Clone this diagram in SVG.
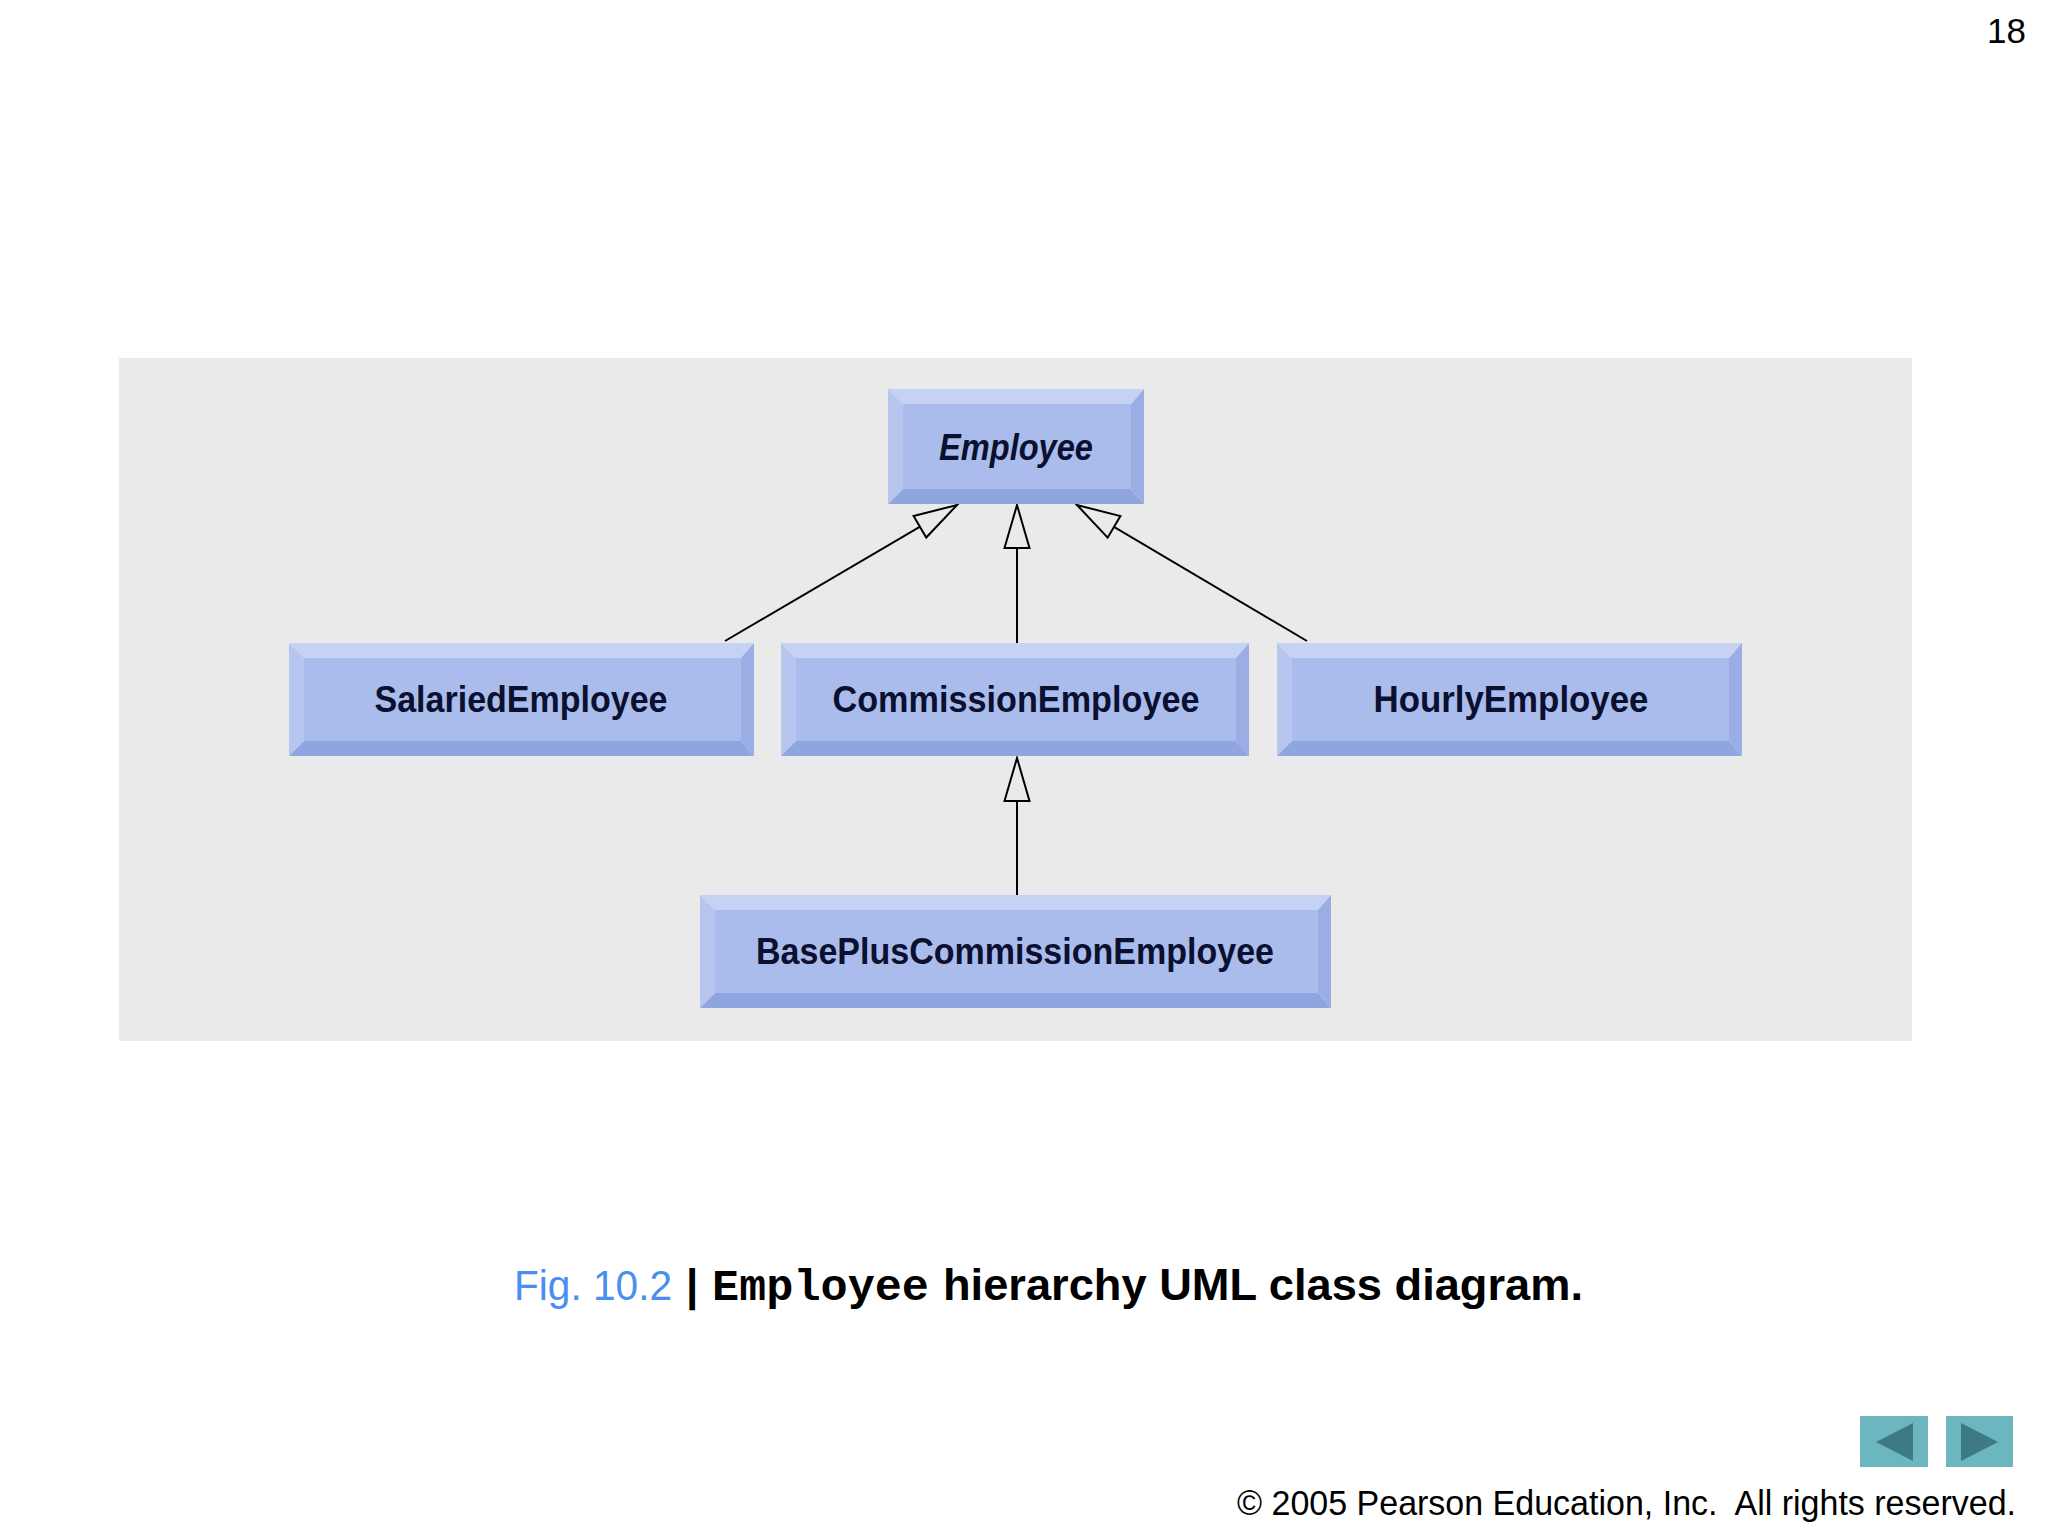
<svg xmlns="http://www.w3.org/2000/svg" width="2048" height="1536" viewBox="0 0 2048 1536">
<style>
.top{fill:#c6d2f4}.left{fill:#b7c6ef}.face{fill:#aabcec}.bottom{fill:#8fa5df}.right{fill:#9aaee4}
.lbl{font-family:"Liberation Sans",Arial,sans-serif;font-weight:bold;font-size:36px;fill:#0b1030;text-anchor:middle}
.conn{stroke:#000;stroke-width:2;fill:none}
</style>
<defs>
<marker id="gen" markerUnits="userSpaceOnUse" markerWidth="50" markerHeight="30" refX="43" refY="12.5" orient="auto" viewBox="-2 -2 48 30">
<path d="M0,0 L43,12.5 L0,25 Z" fill="#eaeaeb" stroke="#000" stroke-width="2"/>
</marker>
</defs>
<rect width="2048" height="1536" fill="#ffffff"/>
<rect x="119" y="358" width="1793" height="683" fill="#eaeaeb"/>

<g id="connectors">
<path class="conn" d="M725,641 L957,505" marker-end="url(#gen)"/>
<path class="conn" d="M1017,643 L1017,505" marker-end="url(#gen)"/>
<path class="conn" d="M1307,641 L1077,505" marker-end="url(#gen)"/>
<path class="conn" d="M1017,895 L1017,758" marker-end="url(#gen)"/>
</g>

<g id="employee">
<polygon class="top" points="888,389 1144,389 1131,404 903,404"/>
<polygon class="left" points="888,389 903,404 903,489 888,504"/>
<polygon class="bottom" points="888,504 903,489 1131,489 1144,504"/>
<polygon class="right" points="1144,389 1144,504 1131,489 1131,404"/>
<rect class="face" x="903" y="404" width="228" height="85"/>
<text class="lbl" x="1016" y="460" font-style="italic" textLength="154" lengthAdjust="spacingAndGlyphs">Employee</text>
</g>

<g id="salaried">
<polygon class="top" points="289,643 754,643 741,658 304,658"/>
<polygon class="left" points="289,643 304,658 304,741 289,756"/>
<polygon class="bottom" points="289,756 304,741 741,741 754,756"/>
<polygon class="right" points="754,643 754,756 741,741 741,658"/>
<rect class="face" x="304" y="658" width="437" height="83"/>
<text class="lbl" x="521" y="712" textLength="293" lengthAdjust="spacingAndGlyphs">SalariedEmployee</text>
</g>

<g id="commission">
<polygon class="top" points="781,643 1249,643 1236,658 796,658"/>
<polygon class="left" points="781,643 796,658 796,741 781,756"/>
<polygon class="bottom" points="781,756 796,741 1236,741 1249,756"/>
<polygon class="right" points="1249,643 1249,756 1236,741 1236,658"/>
<rect class="face" x="796" y="658" width="440" height="83"/>
<text class="lbl" x="1016" y="712" textLength="367" lengthAdjust="spacingAndGlyphs">CommissionEmployee</text>
</g>

<g id="hourly">
<polygon class="top" points="1277,643 1742,643 1729,658 1292,658"/>
<polygon class="left" points="1277,643 1292,658 1292,741 1277,756"/>
<polygon class="bottom" points="1277,756 1292,741 1729,741 1742,756"/>
<polygon class="right" points="1742,643 1742,756 1729,741 1729,658"/>
<rect class="face" x="1292" y="658" width="437" height="83"/>
<text class="lbl" x="1511" y="712" textLength="275" lengthAdjust="spacingAndGlyphs">HourlyEmployee</text>
</g>

<g id="basepluscommission">
<polygon class="top" points="700,895 1331,895 1318,910 715,910"/>
<polygon class="left" points="700,895 715,910 715,993 700,1008"/>
<polygon class="bottom" points="700,1008 715,993 1318,993 1331,1008"/>
<polygon class="right" points="1331,895 1331,1008 1318,993 1318,910"/>
<rect class="face" x="715" y="910" width="603" height="83"/>
<text class="lbl" x="1015" y="964" textLength="518" lengthAdjust="spacingAndGlyphs">BasePlusCommissionEmployee</text>
</g>

<text x="2026" y="43" font-family="Liberation Sans,Arial,sans-serif" font-size="35" text-anchor="end" fill="#000">18</text>

<g id="caption">
<text x="514" y="1300" font-family="Liberation Sans,Arial,sans-serif" font-size="43" fill="#4a8ff0" textLength="158" lengthAdjust="spacingAndGlyphs">Fig. 10.2</text>
<text x="686" y="1300" font-family="Liberation Sans,Arial,sans-serif" font-size="44" font-weight="bold" fill="#000">|</text>
<text x="712" y="1300" font-family="Liberation Mono,Courier New,monospace" font-size="44" font-weight="bold" fill="#000" textLength="217" lengthAdjust="spacingAndGlyphs">Employee</text>
<text x="943" y="1300" font-family="Liberation Sans,Arial,sans-serif" font-size="44" font-weight="bold" fill="#000" textLength="640" lengthAdjust="spacingAndGlyphs">hierarchy UML class diagram.</text>
</g>

<g id="nav">
<rect x="1860" y="1416" width="68" height="51" fill="#6cb6c0"/>
<polygon points="1913,1423 1913,1461 1876,1442" fill="#3d7a85"/>
<rect x="1946" y="1416" width="67" height="51" fill="#6cb6c0"/>
<polygon points="1961,1423 1961,1461 1998,1442" fill="#3d7a85"/>
</g>

<text x="1237" y="1515" font-family="Liberation Sans,Arial,sans-serif" font-size="35" fill="#000" textLength="779" lengthAdjust="spacingAndGlyphs">© 2005 Pearson Education, Inc.&#160; All rights reserved.</text>
</svg>
